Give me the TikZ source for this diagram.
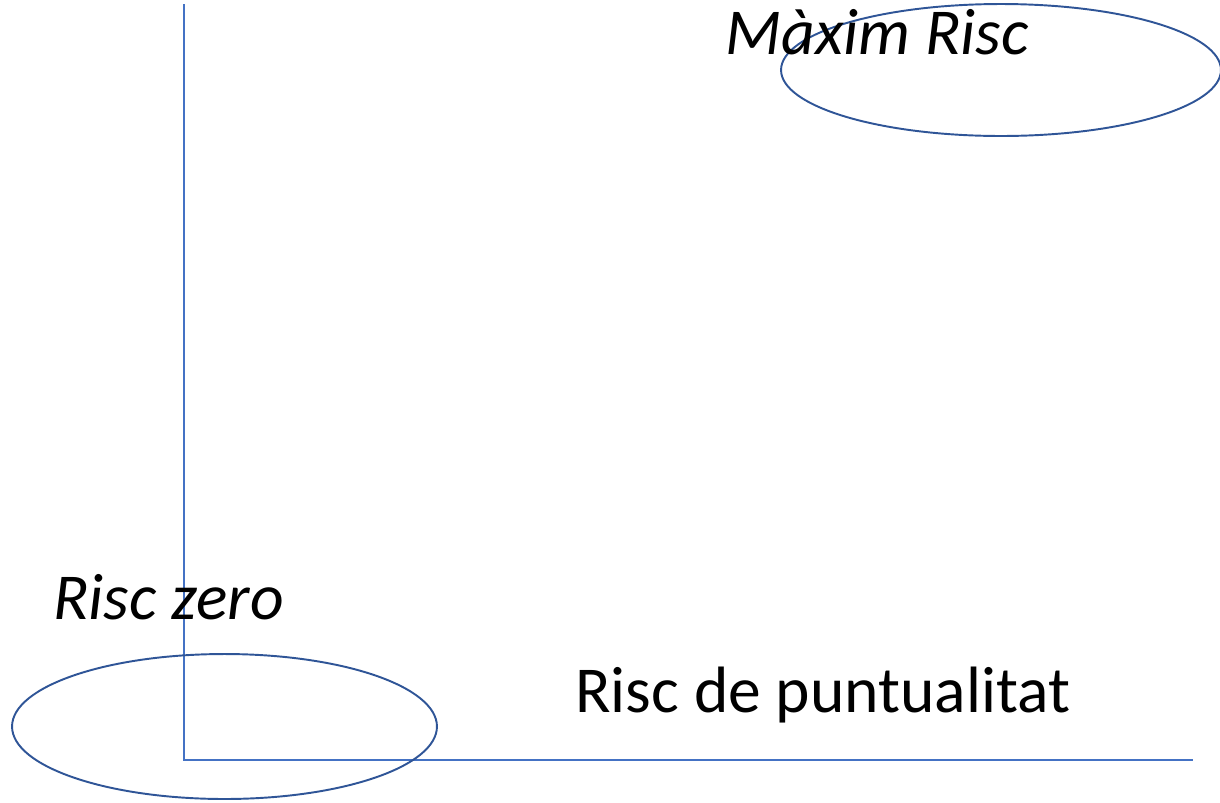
\documentclass[tikz,border=0pt]{standalone}
\usepackage{fontspec}
\setmainfont{Carlito}
\usetikzlibrary{shapes.geometric}

\definecolor{axisblue}{HTML}{4472C4}
\definecolor{ringblue}{HTML}{2F5597}
\newcommand{\tagsize}{\fontsize{37.3}{44}\selectfont}

\begin{document}
\begin{tikzpicture}[x=0.02cm, y=-0.02cm,
  zone/.style={draw=ringblue, line width=1.1pt, ellipse, inner sep=0pt},
  axis/.style={draw=axisblue, line width=0.8pt},
  tag/.style={inner sep=0pt, anchor=base west, font=\tagsize},
  slanttag/.style={tag, font=\tagsize\itshape}]
\useasboundingbox (0,0) rectangle (1220,802);
% axes
\coordinate (top) at (184,4);
\coordinate (origin) at (184,760);
\coordinate (right) at (1193,760);
\draw[axis] (top) -- (origin) -- (right);
% zones
\node[zone, minimum width=8.8cm, minimum height=2.64cm] (maxzone) at (1001,70) {};
\node[zone, minimum width=8.5cm, minimum height=2.9cm] (zerozone) at (224.5,726.5) {};
% labels
\node[slanttag] (maxlabel) at (725,54) {Màxim Risc};
\node[slanttag] (zerolabel) at (53,619) {Risc zero};
\node[tag] (punclabel) at (575,712) {Risc de puntualitat};
\end{tikzpicture}
\end{document}
